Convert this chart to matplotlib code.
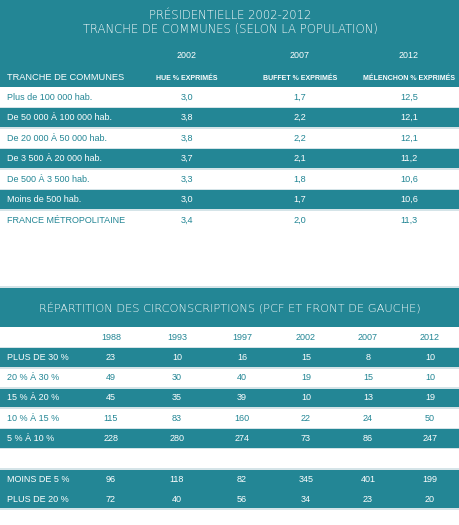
import matplotlib
matplotlib.use("Agg")
import matplotlib.pyplot as plt
from matplotlib.patches import Rectangle

# ---------------- data ----------------
title_top = ["PRÉSIDENTIELLE 2002-2012", "TRANCHE DE COMMUNES (SELON LA POPULATION)"]
top_years = ["2002", "2007", "2012"]
top_sub = ["HUE % EXPRIMÉS", "BUFFET % EXPRIMÉS", "MÉLENCHON % EXPRIMÉS"]
top_label_header = "TRANCHE DE COMMUNES"
top_rows = ["Plus de 100 000 hab.", "De 50 000 À 100 000 hab.", "De 20 000 À 50 000 hab.",
            "De 3 500 À 20 000 hab.", "De 500 À 3 500 hab.", "Moins de 500 hab.",
            "FRANCE MÉTROPOLITAINE"]
hue = [3.0, 3.8, 3.8, 3.7, 3.3, 3.0, 3.4]
buffet = [1.7, 2.2, 2.2, 2.1, 1.8, 1.7, 2.0]
melenchon = [12.5, 12.1, 12.1, 11.2, 10.6, 10.6, 11.3]

title_bottom = "RÉPARTITION DES CIRCONSCRIPTIONS (PCF ET FRONT DE GAUCHE)"
bot_years = ["1988", "1993", "1997", "2002", "2007", "2012"]
bot_rows = ["PLUS DE 30 %", "20 % À 30 %", "15 % À 20 %", "10 % À 15 %", "5 % À 10 %"]
bot_vals = [
    [23, 10, 16, 15, 8, 10],
    [49, 30, 40, 19, 15, 10],
    [45, 35, 39, 10, 13, 19],
    [115, 83, 160, 22, 24, 50],
    [228, 280, 274, 73, 86, 247],
]
sum_rows = ["MOINS DE 5 %", "PLUS DE 20 %"]
sum_vals = [
    [96, 118, 82, 345, 401, 199],
    [72, 40, 56, 34, 23, 20],
]

# ---------------- style ----------------
TEAL = "#238695"
SEP = "#d5e4e8"
FONT = "Liberation Sans"
TFONT = "DejaVu Sans"

fig = plt.figure(figsize=(4.6, 5.25), dpi=100)
ax = fig.add_axes([0, 0, 1, 1])
ax.set_xlim(0, 460)
ax.set_ylim(525, 0)
ax.axis("off")


def band(y0, y1, color):
    ax.add_patch(Rectangle((0, y0), 460, y1 - y0, facecolor=color, edgecolor="none"))


def sep(y):
    ax.add_patch(Rectangle((0, y - 0.8), 460, 1.6, facecolor=SEP, edgecolor="none", zorder=2))


def fmt(v):
    return f"{v:.1f}".replace(".", ",")


# ---------------- top table ----------------
band(0, 87, TEAL)
ax.text(230, 15, title_top[0], ha="center", va="center", color="white",
        fontsize=8.4, family=TFONT, fontweight="light")
ax.text(230, 29, title_top[1], ha="center", va="center", color="white",
        fontsize=8.4, family=TFONT, fontweight="light")

top_x = [187, 300, 409]
for x, yr, sub in zip(top_x, top_years, top_sub):
    ax.text(x, 56, yr, ha="center", va="center", color="white", fontsize=6.4, family=FONT)
    ax.text(x, 78, sub, ha="center", va="center", color="white", fontsize=5.0,
            family=FONT, fontweight="bold")
ax.text(7, 78, top_label_header, ha="left", va="center", color="white", fontsize=6.7, family=FONT)

row_h = 20.5
y_start = 87
for i, lab in enumerate(top_rows):
    y0 = y_start + i * row_h
    teal = i % 2 == 1
    band(y0, y0 + row_h, TEAL if teal else "white")
    c = "white" if teal else TEAL
    yc = y0 + row_h / 2
    ax.text(7, yc, lab, ha="left", va="center", color=c, fontsize=6.5, family=FONT)
    for x, v in zip(top_x, (hue[i], buffet[i], melenchon[i])):
        ax.text(x, yc, fmt(v), ha="center", va="center", color=c, fontsize=6.6, family=FONT)
    if i > 0:
        sep(y0)

# ---------------- bottom table ----------------
band(287, 327, TEAL)
sep(287)
ax.text(230, 308, title_bottom, ha="center", va="center", color="white",
        fontsize=8.2, family=TFONT, fontweight="light")

bot_x = [111, 177, 242, 306, 368, 430]
hdr_y0, hdr_y1 = 327.5, 347.5
for x, yr in zip(bot_x, bot_years):
    ax.text(x, (hdr_y0 + hdr_y1) / 2, yr, ha="center", va="center", color=TEAL,
            fontsize=6.5, family=FONT)

brow_h = 20.2
for i, lab in enumerate(bot_rows):
    y0 = hdr_y1 + i * brow_h
    teal = i % 2 == 0
    band(y0, y0 + brow_h, TEAL if teal else "white")
    c = "white" if teal else TEAL
    yc = y0 + brow_h / 2
    ax.text(7, yc, lab, ha="left", va="center", color=c, fontsize=6.5, family=FONT)
    for x, v in zip(bot_x, bot_vals[i]):
        ax.text(x, yc, str(v), ha="center", va="center", color=c, fontsize=6.5, family=FONT)
    sep(y0)
sep(hdr_y1 + len(bot_rows) * brow_h)

s_y0 = 469
band(s_y0, s_y0 + 2 * 20, TEAL)
sep(s_y0)
sep(s_y0 + 40)
for i, lab in enumerate(sum_rows):
    yc = s_y0 + 10 + i * 20
    ax.text(7, yc, lab, ha="left", va="center", color="white", fontsize=6.5, family=FONT)
    for x, v in zip(bot_x, sum_vals[i]):
        ax.text(x, yc, str(v), ha="center", va="center", color="white", fontsize=6.5, family=FONT)

fig.savefig("out.png", dpi=100, facecolor="white")
